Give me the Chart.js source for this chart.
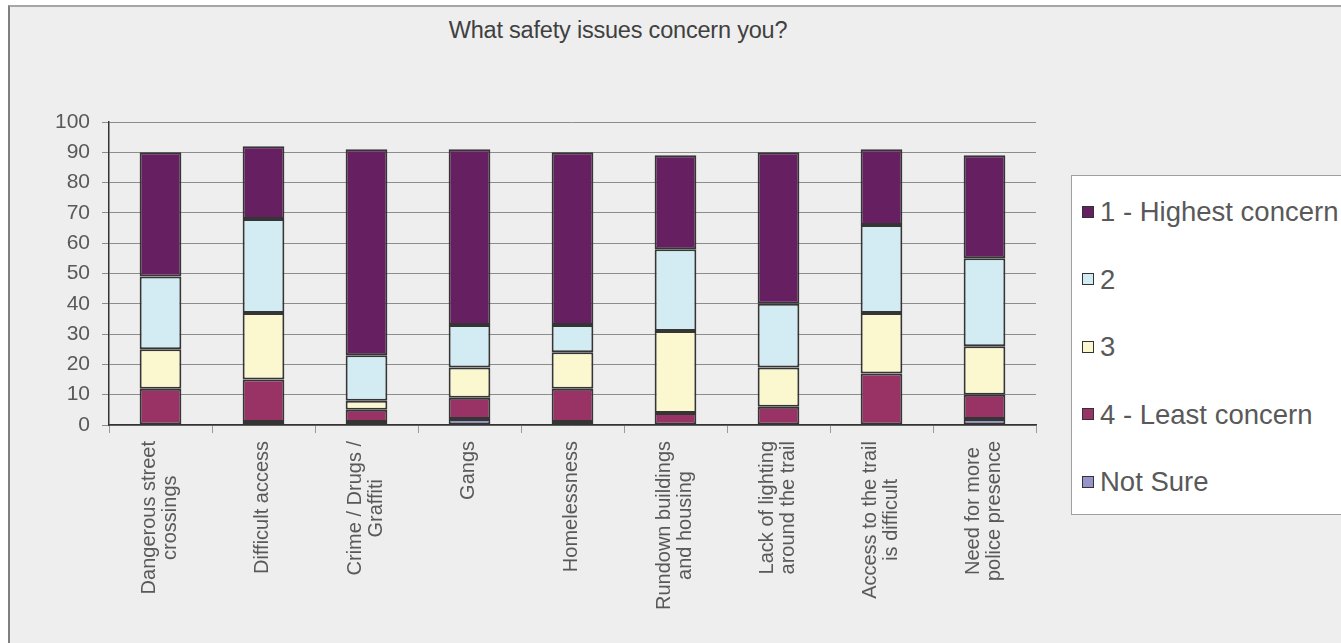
<!DOCTYPE html>
<html>
<head>
<meta charset="utf-8">
<title>What safety issues concern you?</title>
<script src="https://cdn.jsdelivr.net/npm/chart.js@4.4.1/dist/chart.umd.min.js"></script>
<style>
    html, body { margin: 0; padding: 0; background: #ffffff; }
    #frame {
        position: absolute; left: 8px; top: 5px; width: 1340px; height: 640px;
        background: #eeeeee; border-left: 2px solid #7f7f7f; border-top: 2px solid #a6a6a6;
    }
    #chartWrap { position: absolute; left: 0; top: 0; width: 1341px; height: 643px; }
    #title {
        position: absolute; top: 17px; left: 418px; width: 400px; text-align: center;
        font: 23.5px "Liberation Sans", Arial, sans-serif; color: #404040; letter-spacing: -0.2px;
    }
    #legend {
        position: absolute; left: 1071px; top: 175px; width: 300px; height: 338px;
        background: #ffffff; border: 1px solid #a0a0a0;
    }
    .legend-item {
        position: absolute; left: 10px; height: 30px; line-height: 30px; white-space: nowrap;
        font: 27.5px "Liberation Sans", Arial, sans-serif; color: #595959;
    }
    .legend-item span.box {
        display: inline-block; width: 10px; height: 10px; border: 1px solid #333333;
        margin-right: 6px; vertical-align: middle; position: relative; top: -2px;
    }
</style>
</head>
<body>
<div id="frame"></div>
<div id="title">What safety issues concern you?</div>
<div id="legend"></div>
<div id="chartWrap"><canvas id="myChart" width="1341" height="643"></canvas></div>

<script>
// categories (multi-line labels as arrays)
const categories = [
    ["Dangerous street", "crossings"],
    ["Difficult access"],
    ["Crime / Drugs /", "Graffiti"],
    ["Gangs"],
    ["Homelessness"],
    ["Rundown buildings", "and housing"],
    ["Lack of lighting", "around the trail"],
    ["Access to the trail", "is difficult"],
    ["Need for more", "police presence"]
];

// series, stacked from the bottom up
const notSure   = [0, 1, 1, 2, 1, 0, 0, 0, 2];
const least4    = [12, 14, 4, 7, 11, 4, 6, 17, 8];
const level3    = [13, 22, 3, 10, 12, 27, 13, 20, 16];
const level2    = [24, 31, 15, 14, 9, 27, 21, 29, 29];
const highest1  = [41, 24, 68, 58, 57, 31, 50, 25, 34];

const yTicks = [0, 10, 20, 30, 40, 50, 60, 70, 80, 90, 100];

const seriesNames = ["Not Sure", "4 - Least concern", "3", "2", "1 - Highest concern"];
const seriesColors = ["#9595cc", "#993366", "#fbf8cf", "#d3ecf3", "#662062"];

const labelColor = "#595959";

// draws the rotated category labels, lines centred on each other
const xLabelPlugin = {
    id: 'xLabels',
    afterDraw(chart) {
        const ctx = chart.ctx;
        const xs = chart.scales.x;
        const top = chart.chartArea.bottom + 16;
        const lineH = 21;
        ctx.save();
        ctx.font = '20px "Liberation Sans", Arial, sans-serif';
        ctx.fillStyle = labelColor;
        ctx.textAlign = 'center';
        ctx.textBaseline = 'middle';
        categories.forEach((lines, i) => {
            const x = xs.getPixelForValue(i) - 1;
            const maxW = Math.max(...lines.map(l => ctx.measureText(l).width));
            ctx.save();
            ctx.translate(x, top);
            ctx.rotate(-Math.PI / 2);
            lines.forEach((line, j) => {
                ctx.fillText(line, -maxW / 2, (j - (lines.length - 1) / 2) * lineH);
            });
            ctx.restore();
        });
        ctx.restore();
    }
};

const datasets = [notSure, least4, level3, level2, highest1].map((values, i) => ({
    label: seriesNames[i],
    data: values,
    backgroundColor: seriesColors[i],
    borderColor: '#353535',
    borderWidth: 2,
    borderSkipped: false,
    categoryPercentage: 1.0,
    barPercentage: 0.405
}));

const ctx = document.getElementById('myChart').getContext('2d');
const chart = new Chart(ctx, {
    type: 'bar',
    data: {
        labels: categories.map(c => c.join(' ')),
        datasets: datasets
    },
    options: {
        responsive: false,
        animation: false,
        layout: { padding: { left: 0, top: 122, right: 305, bottom: 0 } },
        plugins: {
            legend: { display: false },
            title: { display: false },
            tooltip: { enabled: false }
        },
        scales: {
            x: {
                stacked: true,
                offset: true,
                grid: {
                    display: true,
                    offset: true,
                    drawOnChartArea: false,
                    drawTicks: true,
                    tickLength: 8,
                    color: '#9a9a9a'
                },
                border: { display: true, color: '#333333', width: 1.5 },
                ticks: { display: false },
                afterFit: (scale) => { scale.height = 643 - 425; }
            },
            y: {
                stacked: true,
                min: yTicks[0],
                max: yTicks[yTicks.length - 1],
                afterBuildTicks: (scale) => { scale.ticks = yTicks.map(v => ({ value: v })); },
                grid: { color: '#8c8c8c', lineWidth: 1, tickLength: 7 },
                border: { display: true, color: '#333333', width: 1.5 },
                ticks: {
                    color: labelColor,
                    padding: 12,
                    font: { family: '"Liberation Sans", Arial, sans-serif', size: 21 }
                },
                afterFit: (scale) => { scale.width = 109; }
            }
        }
    },
    plugins: [xLabelPlugin]
});

// legend built from the chart's datasets, top item is the last stacked series
const legendEl = document.getElementById('legend');
chart.data.datasets.slice().reverse().forEach((ds, i) => {
    const item = document.createElement('div');
    item.className = 'legend-item';
    item.style.top = (35 + i * 67.5 - 15) + 'px';
    const box = document.createElement('span');
    box.className = 'box';
    box.style.background = ds.backgroundColor;
    item.appendChild(box);
    item.appendChild(document.createTextNode(ds.label));
    legendEl.appendChild(item);
});
</script>
</body>
</html>
